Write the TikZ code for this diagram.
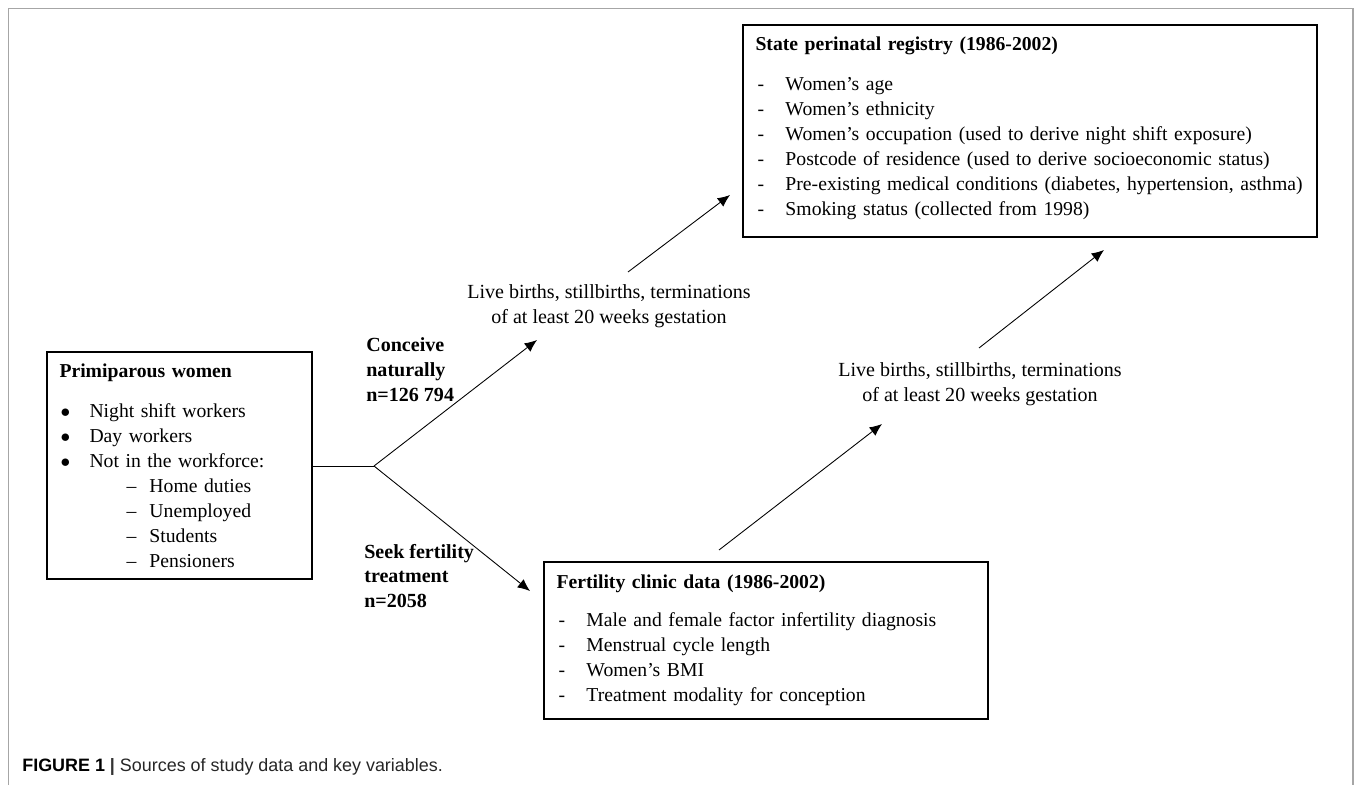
\documentclass[tikz,border=0pt]{standalone}
\usepackage{fontspec}
\setmainfont{Liberation Serif}
\newfontfamily\capfont{Liberation Sans}
\usetikzlibrary{arrows.meta}

\newcommand{\itemdash}{\hspace*{0.04cm}\makebox[0.56cm][l]{-}}
\newcommand{\itembullet}{\hspace*{0.02cm}\makebox[0.58cm][l]{$\bullet$}}
\newcommand{\subdash}{\hspace*{1.34cm}\makebox[0.46cm][l]{--}}

\begin{document}
\begin{tikzpicture}[
  databox/.style={draw,line width=0.7pt,align=left,inner xsep=0.25cm,
    font=\fontsize{11.2}{14.2}\selectfont},
  flowtext/.style={align=center,font=\fontsize{11.4}{14.2}\selectfont},
  branchtext/.style={align=left,anchor=west,inner sep=0pt,
    font=\fontsize{11.4}{14.2}\selectfont\bfseries},
  >={Latex[length=7pt,width=6pt]}]
\useasboundingbox (0,0) rectangle (27.16,-15.7);
% outer frame of the figure
\draw [gray!70,line width=0.8pt] (0.17,-15.7) -- (0.17,-0.17) -- (27.06,-0.17) -- (27.06,-15.7);

\path node (reg) at (20.6,-2.62) [databox,text width=10.98cm,minimum height=4.24cm]
        {\textbf{State perinatal registry (1986-2002)}\\[8.5pt]
         \itemdash Women’s age\\
         \itemdash Women’s ethnicity\\
         \itemdash Women’s occupation (used to derive night shift exposure)\\
         \itemdash Postcode of residence (used to derive socioeconomic status)\\
         \mbox{\itemdash Pre-existing medical conditions (diabetes, hypertension, asthma)}\\
         \itemdash Smoking status (collected from 1998)\rule[-0.2cm]{0pt}{0pt}}
      node (prim) at (3.59,-9.31) [databox,text width=4.8cm,minimum height=4.54cm]
        {\textbf{Primiparous women}\\[8.5pt]
         \itembullet Night shift workers\\
         \itembullet Day workers\\
         \itembullet Not in the workforce:\\
         \subdash Home duties\\
         \subdash Unemployed\\
         \subdash Students\\
         \subdash Pensioners}
      node (clinic) at (15.32,-12.81) [databox,text width=8.38cm,minimum height=3.14cm]
        {\textbf{Fertility clinic data (1986-2002)}\\[7.5pt]
         \itemdash Male and female factor infertility diagnosis\\
         \itemdash Menstrual cycle length\\
         \itemdash Women’s BMI\\
         \itemdash Treatment modality for conception}
      node (births1) at (12.18,-6.12) [flowtext]
        {Live births, stillbirths, terminations\\ of at least 20 weeks gestation}
      node (births2) at (19.6,-7.69) [flowtext]
        {Live births, stillbirths, terminations\\ of at least 20 weeks gestation}
      node (natural) at (7.32,-7.4) [branchtext]
        {Conceive\\ naturally\\ n=126 794}
      node (seek) at (7.28,-11.52) [branchtext]
        {Seek fertility\\ treatment\\ n=2058}
      node (caption) at (0.44,-15.34) [anchor=west,inner sep=0pt,font=\capfont\fontsize{10.2}{12}\selectfont]
        {\textbf{FIGURE 1} {\bfseries\color{black!80}|} {\color{black!85}Sources of study data and key variables.}};

\coordinate (split) at (7.48,-9.32);
\coordinate (b1out) at (12.56,-5.44);
\coordinate (b1in) at (10.74,-6.8);
\coordinate (regin1) at (14.6,-3.9);
\coordinate (clinicin) at (10.6,-11.82);
\coordinate (clinicout) at (14.38,-11.0);
\coordinate (b2in) at (17.64,-8.48);
\coordinate (b2out) at (19.58,-6.96);
\coordinate (regin2) at (22.08,-5.0);

\draw [line width=0.5pt] (prim.east |- split) -- (split);
\draw [->,line width=0.5pt] (split) to (b1in);
\draw [->,line width=0.5pt] (split) to (clinicin);
\draw [->,line width=0.5pt] (b1out) to (regin1);
\draw [->,line width=0.5pt] (clinicout) to (b2in);
\draw [->,line width=0.5pt] (b2out) to (regin2);
\end{tikzpicture}
\end{document}
